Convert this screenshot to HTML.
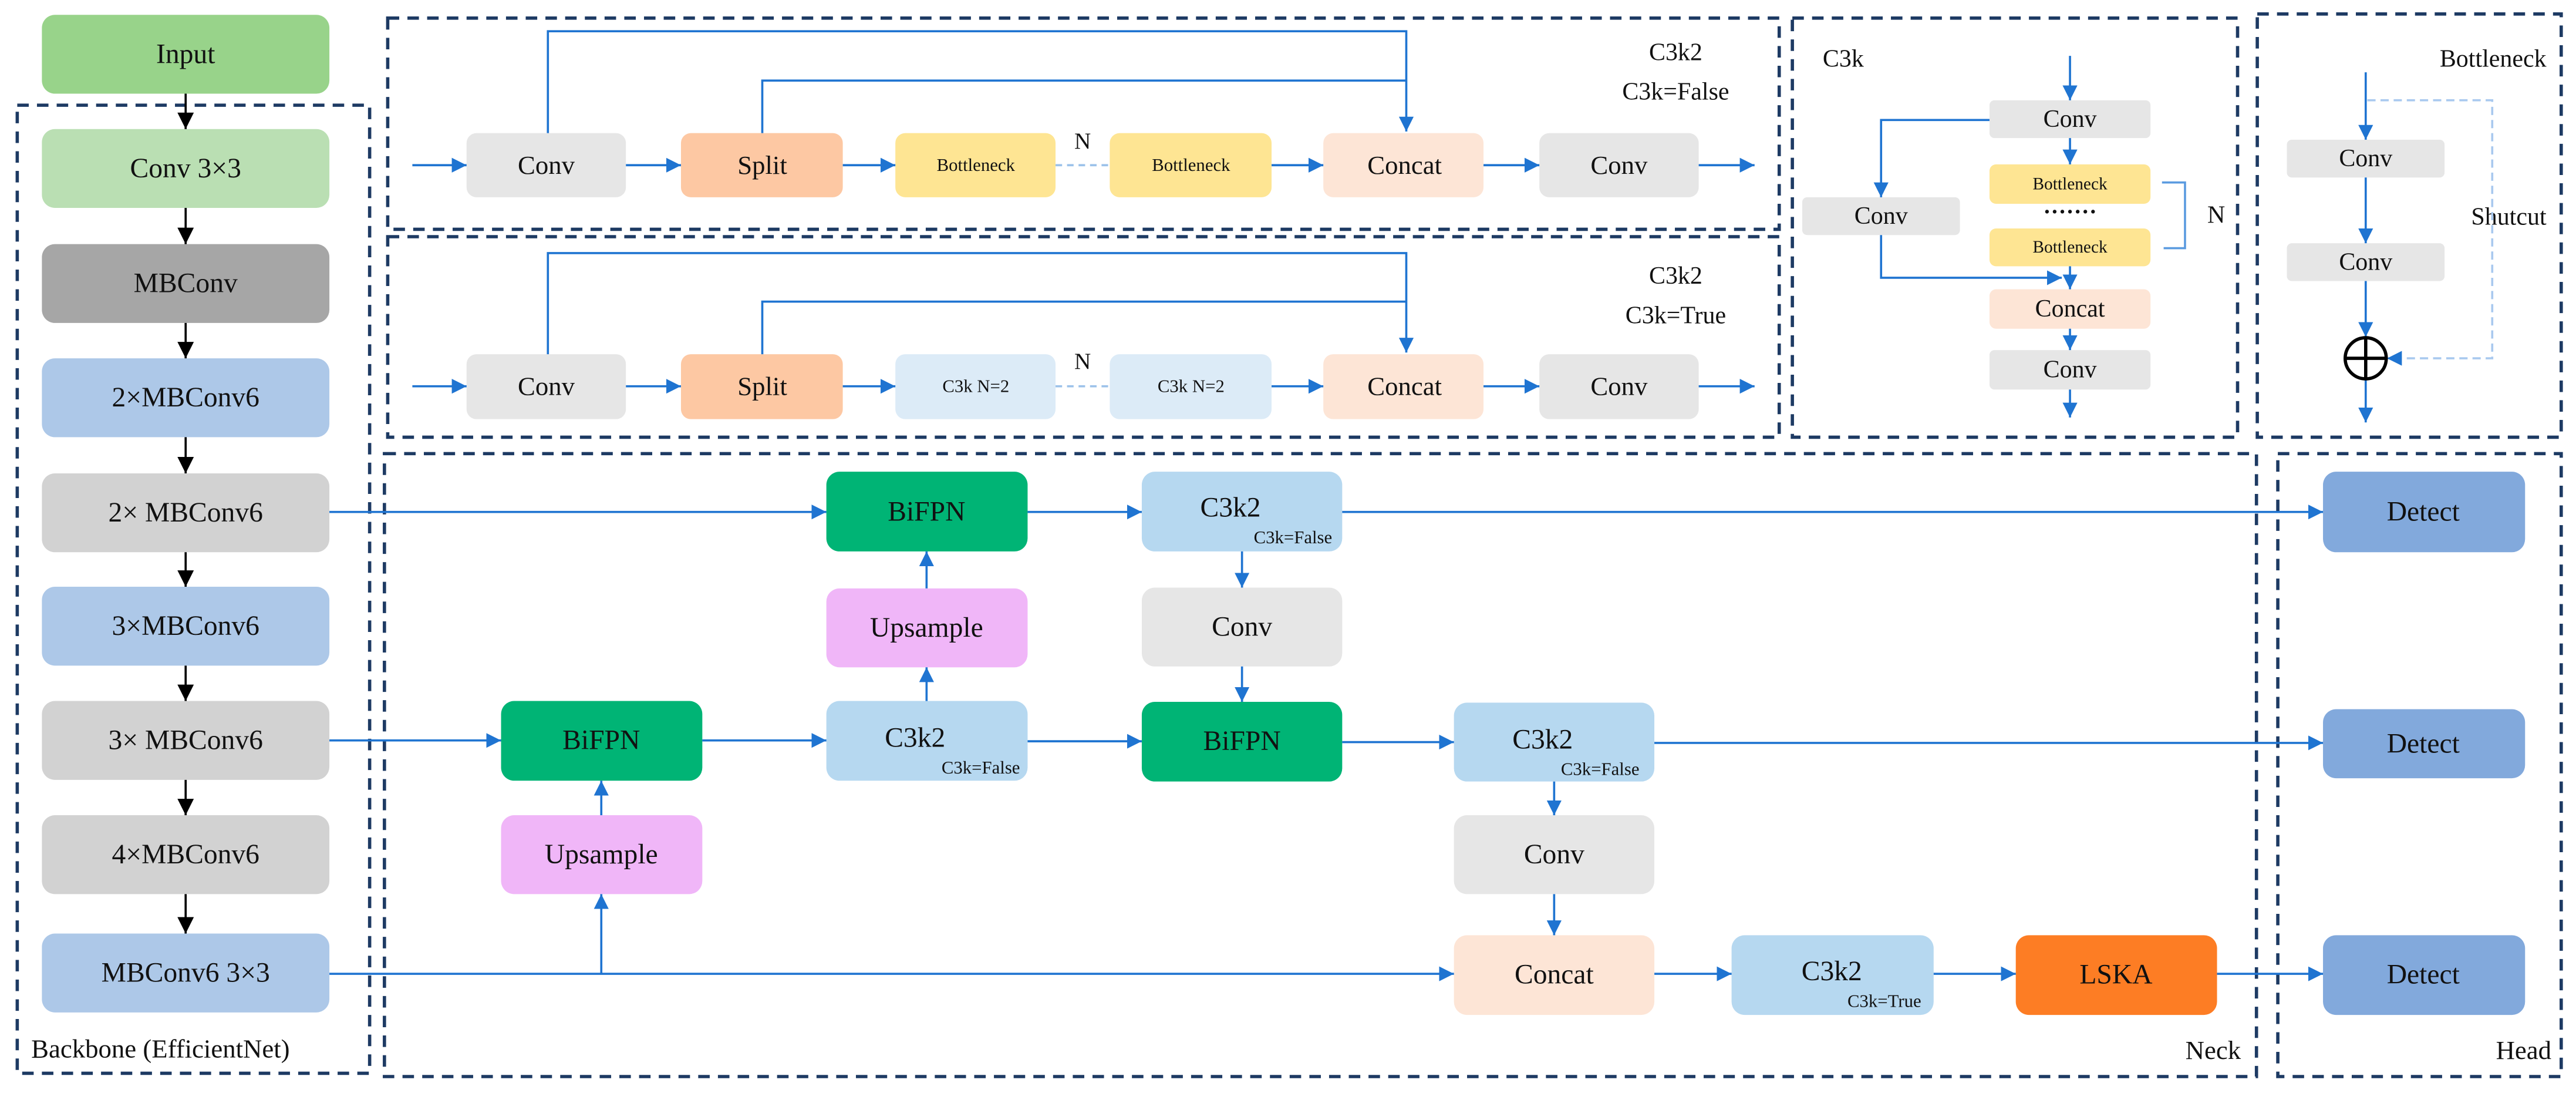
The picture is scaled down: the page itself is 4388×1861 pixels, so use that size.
<!DOCTYPE html>
<html><head><meta charset="utf-8">
<style>
html,body{margin:0;padding:0;background:#fff;}
svg{display:block;}
text{font-family:"Liberation Serif",serif;fill:#111;}
</style></head>
<body>
<svg width="4388" height="1861" viewBox="0 0 1568 665" xmlns="http://www.w3.org/2000/svg">
<defs>
<marker id="ab" markerUnits="userSpaceOnUse" markerWidth="9" markerHeight="9" refX="9" refY="4.5" orient="auto"><path d="M0,0 L9,4.5 L0,9 z" fill="#1f74d1"/></marker>
<marker id="ak" markerUnits="userSpaceOnUse" markerWidth="10" markerHeight="10" refX="10" refY="5" orient="auto"><path d="M0,0 L10,5 L0,10 z" fill="#000"/></marker>
</defs>

<!-- dashed containers -->
<g fill="none" stroke="#1d3a63" stroke-width="2" stroke-dasharray="7,5">
<rect x="10.5" y="64" width="214.5" height="589"/>
<rect x="236" y="11" width="847" height="128.5"/>
<rect x="236" y="144" width="847" height="122"/>
<rect x="1091" y="11" width="271" height="255"/>
<rect x="1374" y="8.5" width="185" height="257.5"/>
<rect x="234" y="276" width="1139.5" height="379"/>
<rect x="1386.5" y="276" width="172.5" height="379"/>
</g>

<!-- Backbone -->
<g font-size="17" text-anchor="middle" dominant-baseline="central">
<rect x="25.5" y="9" width="175" height="48" rx="8" fill="#98d38a"/><text x="113" y="33">Input</text>
<rect x="25.5" y="78.5" width="175" height="48" rx="8" fill="#badfb3"/><text x="113" y="102.5">Conv 3×3</text>
<rect x="25.5" y="148.5" width="175" height="48" rx="8" fill="#a6a6a6"/><text x="113" y="172.5">MBConv</text>
<rect x="25.5" y="218" width="175" height="48" rx="8" fill="#adc8e8"/><text x="113" y="242">2×MBConv6</text>
<rect x="25.5" y="288" width="175" height="48" rx="8" fill="#d2d2d2"/><text x="113" y="312">2× MBConv6</text>
<rect x="25.5" y="357" width="175" height="48" rx="8" fill="#adc8e8"/><text x="113" y="381">3×MBConv6</text>
<rect x="25.5" y="426.5" width="175" height="48" rx="8" fill="#d2d2d2"/><text x="113" y="450.5">3× MBConv6</text>
<rect x="25.5" y="496" width="175" height="48" rx="8" fill="#d2d2d2"/><text x="113" y="520">4×MBConv6</text>
<rect x="25.5" y="568" width="175" height="48" rx="8" fill="#adc8e8"/><text x="113" y="592">MBConv6 3×3</text>
</g>
<text x="19" y="638" font-size="16" dominant-baseline="central">Backbone (EfficientNet)</text>
<g stroke="#000" stroke-width="1.3" marker-end="url(#ak)">
<line x1="113" y1="57" x2="113" y2="78.5"/>
<line x1="113" y1="126.5" x2="113" y2="148.5"/>
<line x1="113" y1="196.5" x2="113" y2="218"/>
<line x1="113" y1="266" x2="113" y2="288"/>
<line x1="113" y1="336" x2="113" y2="357"/>
<line x1="113" y1="405" x2="113" y2="426.5"/>
<line x1="113" y1="474.5" x2="113" y2="496"/>
<line x1="113" y1="544" x2="113" y2="568"/>
</g>

<!-- C3k2 False row -->
<g text-anchor="middle" dominant-baseline="central">
<rect x="284" y="81" width="97" height="39" rx="6" fill="#e6e6e6"/><text x="332.5" y="100.5" font-size="16">Conv</text>
<rect x="414.5" y="81" width="98.5" height="39" rx="6" fill="#fdc8a3"/><text x="464" y="100.5" font-size="16">Split</text>
<rect x="545" y="81" width="97.5" height="39" rx="6" fill="#fee593"/><text x="594" y="100.5" font-size="11">Bottleneck</text>
<rect x="675.5" y="81" width="98.5" height="39" rx="6" fill="#fee593"/><text x="725" y="100.5" font-size="11">Bottleneck</text>
<rect x="805.5" y="81" width="97.5" height="39" rx="6" fill="#fde5d6"/><text x="855" y="100.5" font-size="16">Concat</text>
<rect x="937" y="81" width="97" height="39" rx="6" fill="#e6e6e6"/><text x="985.5" y="100.5" font-size="16">Conv</text>
<text x="1020" y="32" font-size="15">C3k2</text>
<text x="1020" y="56" font-size="15">C3k=False</text>
<text x="659" y="86" font-size="14">N</text>
</g>
<g stroke="#1f74d1" stroke-width="1.3" fill="none">
<line x1="251" y1="100.5" x2="284" y2="100.5" marker-end="url(#ab)"/>
<line x1="381" y1="100.5" x2="414.5" y2="100.5" marker-end="url(#ab)"/>
<line x1="513" y1="100.5" x2="545" y2="100.5" marker-end="url(#ab)"/>
<line x1="774" y1="100.5" x2="805.5" y2="100.5" marker-end="url(#ab)"/>
<line x1="903" y1="100.5" x2="937" y2="100.5" marker-end="url(#ab)"/>
<line x1="1034" y1="100.5" x2="1068" y2="100.5" marker-end="url(#ab)"/>
<polyline points="333.5,81 333.5,19 856,19 856,80" marker-end="url(#ab)"/>
<polyline points="464,81 464,49 856,49"/>
<line x1="642.5" y1="100.5" x2="675.5" y2="100.5" stroke="#9cc2ea" stroke-dasharray="4,3"/>
</g>

<!-- C3k2 True row -->
<g text-anchor="middle" dominant-baseline="central">
<rect x="284" y="215.5" width="97" height="39.5" rx="6" fill="#e6e6e6"/><text x="332.5" y="235" font-size="16">Conv</text>
<rect x="414.5" y="215.5" width="98.5" height="39.5" rx="6" fill="#fdc8a3"/><text x="464" y="235" font-size="16">Split</text>
<rect x="545" y="215.5" width="97.5" height="39.5" rx="6" fill="#dcebf7"/><text x="594" y="235" font-size="11">C3k N=2</text>
<rect x="675.5" y="215.5" width="98.5" height="39.5" rx="6" fill="#dcebf7"/><text x="725" y="235" font-size="11">C3k N=2</text>
<rect x="805.5" y="215.5" width="97.5" height="39.5" rx="6" fill="#fde5d6"/><text x="855" y="235" font-size="16">Concat</text>
<rect x="937" y="215.5" width="97" height="39.5" rx="6" fill="#e6e6e6"/><text x="985.5" y="235" font-size="16">Conv</text>
<text x="1020" y="168" font-size="15">C3k2</text>
<text x="1020" y="192" font-size="15">C3k=True</text>
<text x="659" y="220" font-size="14">N</text>
</g>
<g stroke="#1f74d1" stroke-width="1.3" fill="none">
<line x1="251" y1="235" x2="284" y2="235" marker-end="url(#ab)"/>
<line x1="381" y1="235" x2="414.5" y2="235" marker-end="url(#ab)"/>
<line x1="513" y1="235" x2="545" y2="235" marker-end="url(#ab)"/>
<line x1="774" y1="235" x2="805.5" y2="235" marker-end="url(#ab)"/>
<line x1="903" y1="235" x2="937" y2="235" marker-end="url(#ab)"/>
<line x1="1034" y1="235" x2="1068" y2="235" marker-end="url(#ab)"/>
<polyline points="333.5,215.5 333.5,154 856,154 856,214.5" marker-end="url(#ab)"/>
<polyline points="464,215.5 464,183.5 856,183.5"/>
<line x1="642.5" y1="235" x2="675.5" y2="235" stroke="#9cc2ea" stroke-dasharray="4,3"/>
</g>

<!-- C3k -->
<g text-anchor="middle" dominant-baseline="central">
<text x="1122" y="36" font-size="15">C3k</text>
<rect x="1211" y="61" width="98" height="23" rx="3" fill="#e6e6e6"/><text x="1260" y="72.5" font-size="15">Conv</text>
<rect x="1211" y="100" width="98" height="24" rx="4" fill="#fee593"/><text x="1260" y="112" font-size="10.5">Bottleneck</text>
<text x="1260" y="129" font-size="14" font-weight="bold">·······</text>
<rect x="1211" y="139" width="98" height="23" rx="4" fill="#fee593"/><text x="1260" y="150.5" font-size="10.5">Bottleneck</text>
<rect x="1211" y="176" width="98" height="24" rx="4" fill="#fde5d6"/><text x="1260" y="188" font-size="15">Concat</text>
<rect x="1211" y="213" width="98" height="24" rx="3" fill="#e6e6e6"/><text x="1260" y="225" font-size="15">Conv</text>
<rect x="1097" y="120" width="96" height="23" rx="3" fill="#e6e6e6"/><text x="1145" y="131.5" font-size="15">Conv</text>
<text x="1349" y="131" font-size="15">N</text>
</g>
<g stroke="#1f74d1" stroke-width="1.3" fill="none">
<line x1="1260" y1="34" x2="1260" y2="61" marker-end="url(#ab)"/>
<line x1="1260" y1="84" x2="1260" y2="100" marker-end="url(#ab)"/>
<line x1="1260" y1="162" x2="1260" y2="176" marker-end="url(#ab)"/>
<line x1="1260" y1="200" x2="1260" y2="213" marker-end="url(#ab)"/>
<line x1="1260" y1="237" x2="1260" y2="254" marker-end="url(#ab)"/>
<polyline points="1211,73 1145,73 1145,120" marker-end="url(#ab)"/>
<polyline points="1145,143 1145,169 1255,169" marker-end="url(#ab)"/>
<polyline points="1316,111 1330,111 1330,151 1317,151" stroke="#5b9be0"/>
</g>

<!-- Bottleneck -->
<g text-anchor="middle" dominant-baseline="central">
<text x="1550" y="36" font-size="15" text-anchor="end">Bottleneck</text>
<rect x="1392" y="85" width="96" height="23" rx="3" fill="#e6e6e6"/><text x="1440" y="96.5" font-size="15">Conv</text>
<rect x="1392" y="148" width="96" height="23" rx="3" fill="#e6e6e6"/><text x="1440" y="159.5" font-size="15">Conv</text>
<text x="1550" y="132" font-size="15" text-anchor="end">Shutcut</text>
</g>
<g stroke="#1f74d1" stroke-width="1.3" fill="none">
<line x1="1440" y1="44" x2="1440" y2="85" marker-end="url(#ab)"/>
<line x1="1440" y1="108" x2="1440" y2="148" marker-end="url(#ab)"/>
<line x1="1440" y1="171" x2="1440" y2="205" marker-end="url(#ab)"/>
<line x1="1440" y1="231" x2="1440" y2="257" marker-end="url(#ab)"/>
<polyline points="1441,61 1517,61 1517,218 1453,218" stroke="#a9c9ef" stroke-dasharray="5,3" marker-end="url(#ab)"/>
</g>
<g stroke="#000" stroke-width="2" fill="none">
<circle cx="1440" cy="218" r="12.5"/>
<line x1="1427.5" y1="218" x2="1452.5" y2="218"/>
<line x1="1440" y1="205.5" x2="1440" y2="230.5"/>
</g>

<!-- Neck -->
<g text-anchor="middle" dominant-baseline="central" font-size="17">
<rect x="503" y="287" width="122.5" height="48.5" rx="8" fill="#00b475"/><text x="564" y="311.5">BiFPN</text>
<rect x="695" y="287" width="122" height="48.5" rx="8" fill="#b6d8f0"/><text x="749" y="309">C3k2</text>
<text x="787" y="327" font-size="11">C3k=False</text>
<rect x="503" y="358" width="122.5" height="48" rx="8" fill="#f0b6f8"/><text x="564" y="382">Upsample</text>
<rect x="695" y="357.5" width="122" height="48" rx="8" fill="#e6e6e6"/><text x="756" y="381.5">Conv</text>
<rect x="305" y="426.5" width="122.5" height="48.5" rx="8" fill="#00b475"/><text x="366" y="450.5">BiFPN</text>
<rect x="503" y="426.5" width="122.5" height="48.5" rx="8" fill="#b6d8f0"/><text x="557" y="449">C3k2</text>
<text x="597" y="467" font-size="11">C3k=False</text>
<rect x="695" y="427" width="122" height="48.5" rx="8" fill="#00b475"/><text x="756" y="451">BiFPN</text>
<rect x="885" y="427.5" width="122" height="48" rx="8" fill="#b6d8f0"/><text x="939" y="450">C3k2</text>
<text x="974" y="468" font-size="11">C3k=False</text>
<rect x="305" y="496" width="122.5" height="48" rx="8" fill="#f0b6f8"/><text x="366" y="520">Upsample</text>
<rect x="885" y="496" width="122" height="48" rx="8" fill="#e6e6e6"/><text x="946" y="520">Conv</text>
<rect x="885" y="569" width="122" height="48.5" rx="8" fill="#fde5d6"/><text x="946" y="593">Concat</text>
<rect x="1054" y="569" width="123" height="48.5" rx="8" fill="#b6d8f0"/><text x="1115" y="591">C3k2</text>
<text x="1147" y="609" font-size="11">C3k=True</text>
<rect x="1227" y="569" width="122.5" height="48.5" rx="8" fill="#fd7d24"/><text x="1288" y="593">LSKA</text>
<rect x="1414" y="287" width="123" height="49" rx="8" fill="#82a9dc"/><text x="1475" y="311.5">Detect</text>
<rect x="1414" y="431.5" width="123" height="42" rx="8" fill="#82a9dc"/><text x="1475" y="452.5">Detect</text>
<rect x="1414" y="569" width="123" height="48.5" rx="8" fill="#82a9dc"/><text x="1475" y="593">Detect</text>
<text x="1364" y="639" font-size="16" text-anchor="end">Neck</text>
<text x="1553" y="639" font-size="16" text-anchor="end">Head</text>
</g>
<g stroke="#1f74d1" stroke-width="1.3" fill="none">
<line x1="200.5" y1="311.5" x2="503" y2="311.5" marker-end="url(#ab)"/>
<line x1="625.5" y1="311.5" x2="695" y2="311.5" marker-end="url(#ab)"/>
<line x1="817" y1="311.5" x2="1414" y2="311.5" marker-end="url(#ab)"/>
<line x1="564" y1="358" x2="564" y2="335.5" marker-end="url(#ab)"/>
<line x1="564" y1="426.5" x2="564" y2="406" marker-end="url(#ab)"/>
<line x1="756" y1="335.5" x2="756" y2="357.5" marker-end="url(#ab)"/>
<line x1="756" y1="405.5" x2="756" y2="427" marker-end="url(#ab)"/>
<line x1="200.5" y1="450.5" x2="305" y2="450.5" marker-end="url(#ab)"/>
<line x1="427.5" y1="450.5" x2="503" y2="450.5" marker-end="url(#ab)"/>
<line x1="625.5" y1="451" x2="695" y2="451" marker-end="url(#ab)"/>
<line x1="817" y1="451.5" x2="885" y2="451.5" marker-end="url(#ab)"/>
<line x1="1007" y1="452" x2="1414" y2="452" marker-end="url(#ab)"/>
<line x1="946" y1="475.5" x2="946" y2="496" marker-end="url(#ab)"/>
<line x1="946" y1="544" x2="946" y2="569" marker-end="url(#ab)"/>
<line x1="366" y1="496" x2="366" y2="475" marker-end="url(#ab)"/>
<line x1="200.5" y1="592.5" x2="885" y2="592.5" marker-end="url(#ab)"/>
<line x1="366" y1="592.5" x2="366" y2="544" marker-end="url(#ab)"/>
<line x1="1007" y1="592.5" x2="1054" y2="592.5" marker-end="url(#ab)"/>
<line x1="1177" y1="592.5" x2="1227" y2="592.5" marker-end="url(#ab)"/>
<line x1="1349.5" y1="592.5" x2="1414" y2="592.5" marker-end="url(#ab)"/>
</g>
</svg>
</body></html>
